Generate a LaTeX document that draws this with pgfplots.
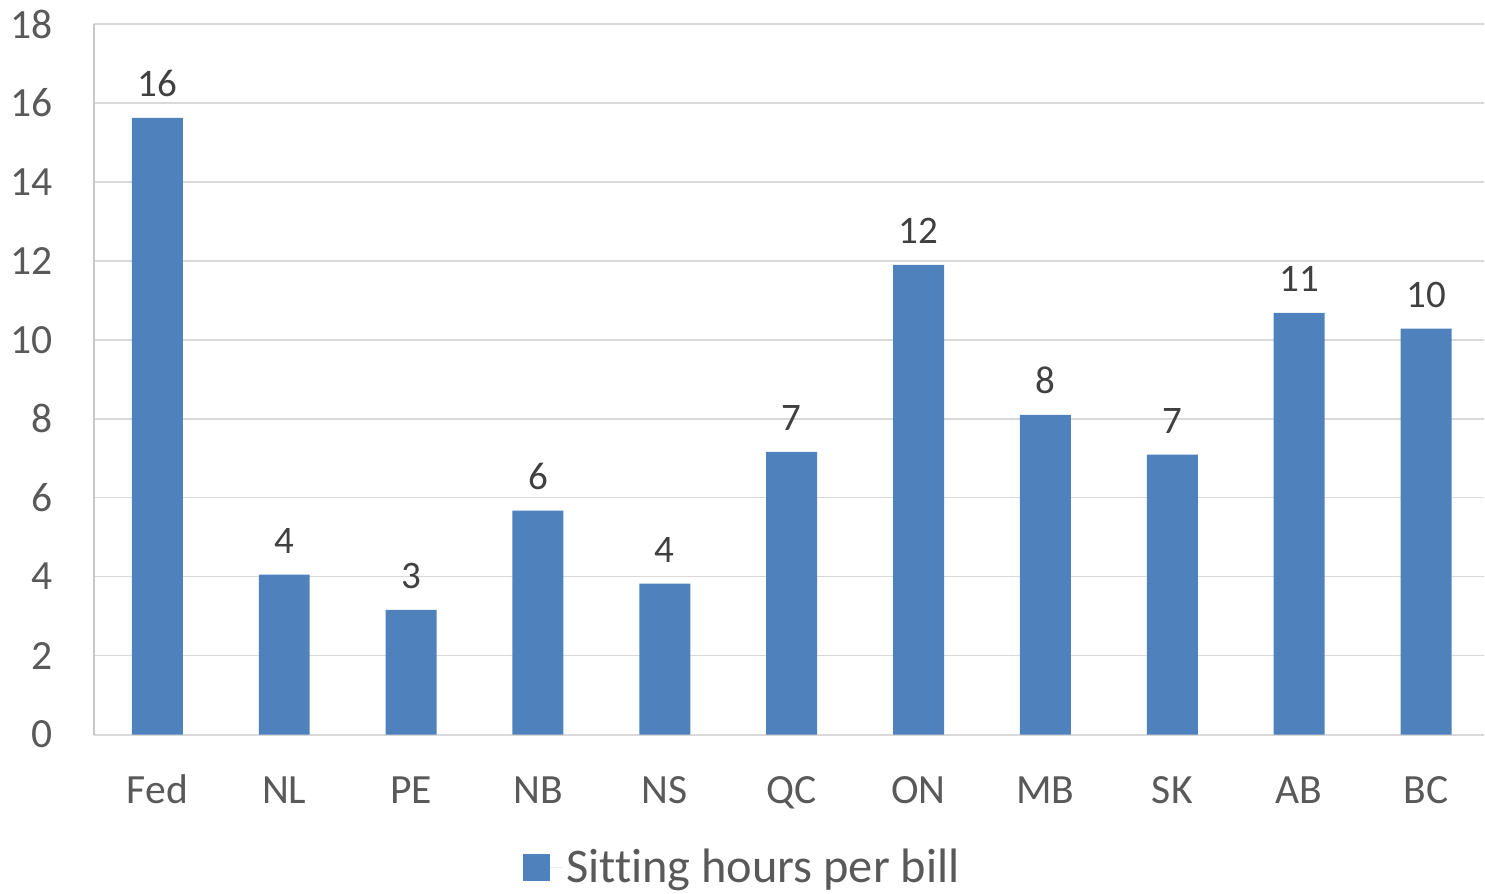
\documentclass[border=0pt]{standalone}
\usepackage{pgfplots}
\pgfplotsset{compat=1.18}
\usepackage{fontspec}
\setmainfont{Carlito}[Ligatures=NoCommon]
\definecolor{barblue}{HTML}{4F81BD}
\definecolor{ticktext}{HTML}{595959}
\definecolor{labeltext}{HTML}{404040}
\definecolor{gridgray}{HTML}{D9D9D9}
\definecolor{axisgray}{HTML}{C8C8C8}
\begin{document}
\begin{tikzpicture}
\begin{axis}[
  scale only axis,
  width=695.5bp, height=355.5bp,
  xmin=-0.5, xmax=10.457,
  ymin=0, ymax=18,
  ytick={0,2,...,18},
  xtick={0,...,10},
  xticklabels={Fed,NL,PE,NB,NS,QC,ON,MB,SK,AB,BC},
  /pgf/number format/assume math mode=true,
  axis x line*=bottom, axis y line*=left,
  x axis line style={-, draw=gridgray, line width=1bp},
  y axis line style={-, draw=axisgray, line width=0.8bp},
  ymajorgrids, grid style={draw=gridgray, line width=0.8bp},
  major tick length=0pt,
  tick style={draw=none},
  ticklabel style={font=\fontsize{20.8bp}{24bp}\selectfont, text=ticktext},
  yticklabel style={anchor=east, inner sep=0pt, xshift=-20.5bp},
  xticklabel style={anchor=base, inner sep=0pt, yshift=-34.5bp},
  ybar, bar width=25.5bp,
  point meta=y,
  nodes near coords={\pgfmathprintnumber[fixed,precision=0,assume math mode=true]{\pgfplotspointmeta}},
  nodes near coords style={anchor=base, inner sep=0pt, yshift=10.5bp, font=\fontsize{19.5bp}{23bp}\selectfont, text=labeltext},
  legend style={at={(axis description cs:0.4644,0)}, anchor=center, xshift=2bp, yshift=-66.5bp, draw=none, fill=none,
    font=\fontsize{24.2bp}{29bp}\selectfont, text=ticktext, legend cell align=left,
    /tikz/every even column/.append style={column sep=0pt}},
  legend image code/.code={\path (0bp,0bp) -- (19.5bp,0bp); \fill[barblue] (0bp,-6.75bp) rectangle (13.5bp,6.75bp);},
  clip=false,
]
\addplot[fill=barblue, draw=none] coordinates {
(0,15.62) (1,4.05) (2,3.16) (3,5.67) (4,3.82) (5,7.16) (6,11.90) (7,8.10) (8,7.09) (9,10.68) (10,10.28)
};
\addlegendentry{Sitting hours per bill}
\end{axis}
\path[use as bounding box] (current axis.south west) ++(-47bp,-78.5bp) rectangle ([yshift=12bp]current axis.north east);
\end{tikzpicture}
\end{document}
